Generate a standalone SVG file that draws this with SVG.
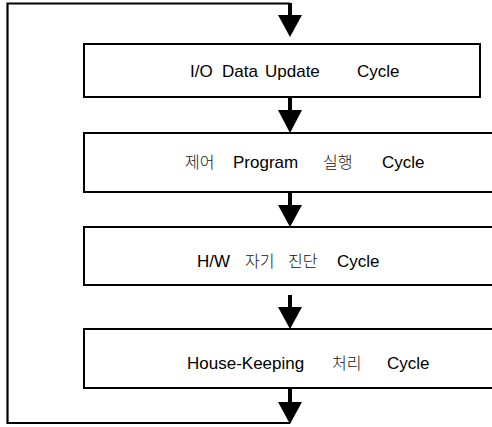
<svg xmlns="http://www.w3.org/2000/svg" width="492" height="427" viewBox="0 0 492 427">
<defs>
<style>
.box{fill:#fff;stroke:#000;stroke-width:2}
.t{font-family:"Liberation Sans",Arial,sans-serif;font-size:17px;fill:#000}
.k{font-family:"Noto Sans CJK KR","Liberation Sans",sans-serif;font-size:16px;font-weight:300;fill:#111}
.line{fill:none;stroke:#000;stroke-width:2.2}
.shaft{stroke:#000;stroke-width:4;fill:none}
.head{fill:#000}
</style>
</defs>
<rect width="492" height="427" fill="#fff"/>
<g id="connectors">
<path class="line" d="M290,3.5 H7.5 V423 H290"/>
<line class="shaft" x1="290" y1="3" x2="290" y2="17"/>
<polygon class="head" points="278,15 302,15 290,37"/>
<line class="shaft" x1="290" y1="97" x2="290" y2="112"/>
<polygon class="head" points="278,110 302,110 290,133"/>
<line class="shaft" x1="290" y1="192" x2="290" y2="207"/>
<polygon class="head" points="278,205 302,205 290,227"/>
<line class="shaft" x1="290" y1="295" x2="290" y2="309"/>
<polygon class="head" points="278,307 302,307 290,329"/>
<line class="shaft" x1="290" y1="388" x2="290" y2="404"/>
<polygon class="head" points="278,402 302,402 290,424"/>
</g>
<g id="node1">
<rect class="box" x="84" y="44" width="396" height="53"/>
<text class="t" x="190" y="77">I/O</text>
<text class="t" x="222" y="77">Data</text>
<text class="t" x="265" y="77">Update</text>
<text class="t" x="357" y="77">Cycle</text>
</g>
<g id="node2">
<rect class="box" x="84" y="133" width="420" height="59"/>
<text class="k" x="185" y="168">제어</text>
<text class="t" x="233" y="168">Program</text>
<text class="k" x="323" y="168">실행</text>
<text class="t" x="382" y="168">Cycle</text>
</g>
<g id="node3">
<rect class="box" x="84" y="227" width="420" height="58"/>
<text class="t" x="197" y="267">H/W</text>
<text class="k" x="245" y="267">자기</text>
<text class="k" x="288" y="267">진단</text>
<text class="t" x="337" y="267">Cycle</text>
</g>
<g id="node4">
<rect class="box" x="84" y="329" width="420" height="59"/>
<text class="t" x="187" y="369">House-Keeping</text>
<text class="k" x="332" y="369">처리</text>
<text class="t" x="387" y="369">Cycle</text>
</g>
</svg>
